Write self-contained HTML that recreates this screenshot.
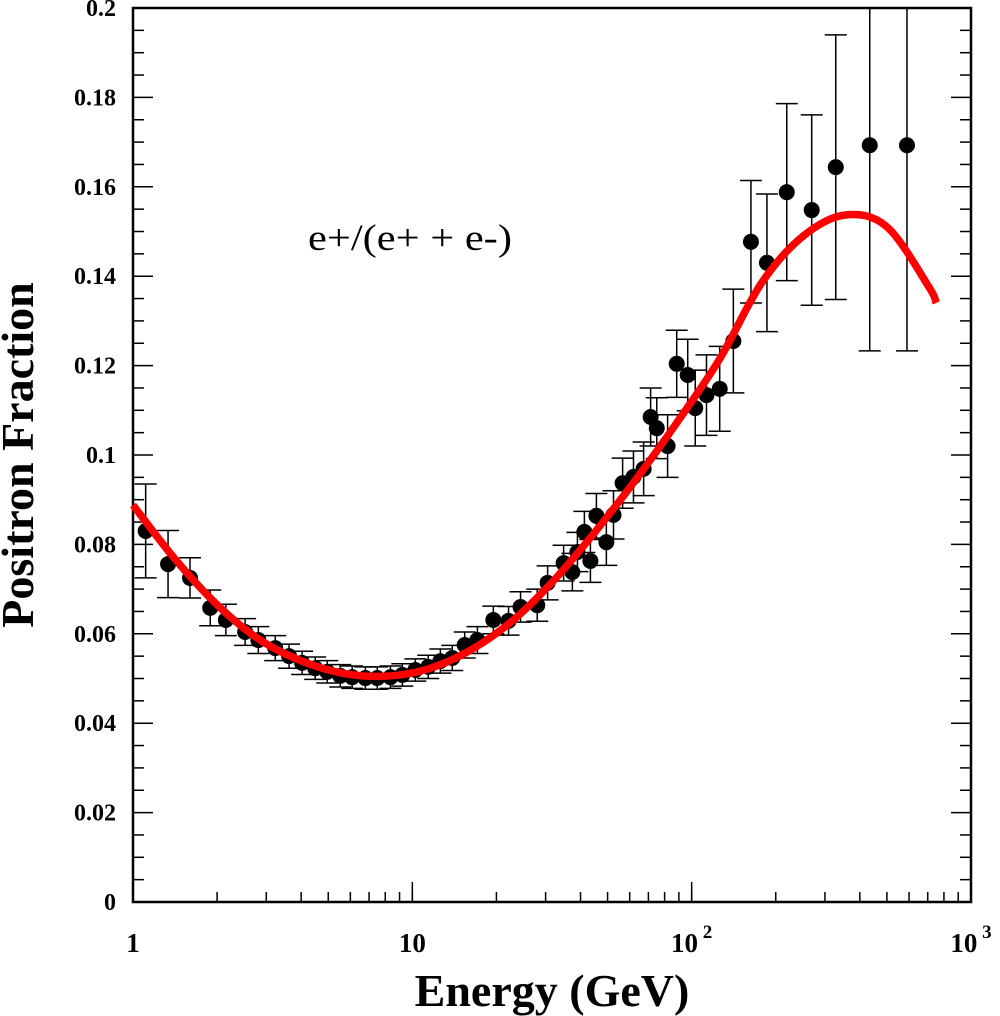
<!DOCTYPE html>
<html><head><meta charset="utf-8"><style>
html,body{margin:0;padding:0;background:#fff;}
svg{display:block;font-family:"Liberation Serif",serif;}
</style></head><body>
<svg id="chart" width="1000" height="1016">
<g id="axes"></g>
<g id="errs"></g>
<g id="pts"></g>
<g id="fit"></g>
<text x="308" y="250" font-size="37" textLength="204" lengthAdjust="spacingAndGlyphs">e+/(e+ + e-)</text>
<text x="552" y="1006" font-size="46" font-weight="bold" text-anchor="middle">Energy (GeV)</text>
<text transform="translate(33,455) rotate(-90)" font-size="46" font-weight="bold" text-anchor="middle">Positron Fraction</text>
</svg>
<script>
const energies=[1.11,1.335,1.6,1.89,2.15,2.52,2.81,3.23,3.62,4.03,4.49,4.96,5.52,6.09,6.79,7.49,8.35,9.21,10.25,11.4,12.6,13.9,15.4,17.1,19.5,22.1,24.4,28.0,30.5,34.8,37.4,39.0,41.3,43.4,45.6,49.5,52.5,56.6,61.9,67.3,71.3,75.0,82.0,88.4,96.8,103,113,126,141,163,186,219,269,328,434,590];
const fractions=[.0830,.0756,.0725,.0658,.0631,.0604,.0586,.0568,.0550,.0535,.0523,.0515,.0506,.0503,.0501,.0501,.0503,.0508,.0519,.0526,.0539,.0546,.0575,.0586,.0631,.0629,.0660,.0664,.0714,.0758,.0738,.0783,.0828,.0763,.0864,.0805,.0866,.0937,.0951,.0969,.1085,.1060,.1020,.1204,.1179,.1105,.1134,.1148,.1255,.1477,.1430,.1588,.1548,.1644,.1693,.1693];
const errors=[.0105,.0075,.0045,.004,.0035,.003,.003,.0028,.0027,.0026,.0025,.0025,.0025,.0025,.0025,.0025,.0025,.0025,.0025,.0026,.0027,.0028,.0029,.003,.0031,.0032,.0034,.0036,.0038,.004,.0042,.0044,.0046,.0048,.005,.0052,.0054,.0056,.0058,.006,.0065,.0068,.007,.0075,.008,.0085,.009,.0095,.0116,.0137,.0154,.0198,.0213,.0296,.046,.046];
const fitEnergies=[1,1.41,2.0,2.82,3.98,5.62,7.94,11.2,15.8,22.4,31.6,44.7,63.1,89.1,126,178,251,355,501,708,750];
const fitValues=[.0888,.0768,.0665,.0588,.0540,.0512,.0505,.0520,.0560,.0625,.0715,.0825,.0945,.1075,.1215,.1385,.1490,.1537,.1510,.1375,.1340];
const yTicks=[0,0.02,0.04,0.06,0.08,0.1,0.12,0.14,0.16,0.18,0.2];
const yTickLabels=["0","0.02","0.04","0.06","0.08","0.1","0.12","0.14","0.16","0.18","0.2"];
const xDecades=[1,10,100,1000];

const X0=133,X1=971,Y0=902,Y1=8;
const sx=e=>X0+(X1-X0)*Math.log10(e)/3;
const sy=v=>Y0-(Y0-Y1)*v/0.2;
const NS="http://www.w3.org/2000/svg";
function mk(parent,tag,attrs){const el=document.createElementNS(NS,tag);for(const k in attrs)el.setAttribute(k,attrs[k]);document.getElementById(parent).appendChild(el);return el;}

const frame=mk('axes','rect',{x:X0,y:Y1,width:X1-X0,height:Y0-Y1,fill:'none',stroke:'#000','stroke-width':2.5});


for(let v=0;v<=0.2001;v+=0.005){
  const maj=Math.abs(v*50-Math.round(v*50))<1e-6;
  const L=maj?20:11;const y=sy(v);
  const t1=mk('axes','line',{x1:X0,x2:X0+L,y1:y,y2:y,stroke:'#000','stroke-width':1.5});
  
  
  const t2=mk('axes','line',{x1:X1,x2:X1-L,y1:y,y2:y,stroke:'#000','stroke-width':1.5});
  
  
}
yTicks.forEach((v,i)=>{
  const t=mk('axes','text',{x:116,y:sy(v)+8,'font-size':24,'font-weight':'bold','text-anchor':'end'});
  t.textContent=yTickLabels[i];
  
  
});
for(let d=0;d<3;d++){for(let k=1;k<=10;k++){
  const e=Math.pow(10,d)*k;const L=(k===10)?20:10;
  const t=mk('axes','line',{x1:sx(e),x2:sx(e),y1:Y0,y2:Y0-L,stroke:'#000','stroke-width':1.5});
  
  
}}
xDecades.forEach((e,i)=>{
  const t=mk('axes','text',{x:sx(e),y:952,'font-size':27,'font-weight':'bold','text-anchor':'middle'});
  if(i<2)t.textContent=String(e);
  else{t.textContent='10';const s=document.createElementNS(NS,'tspan');s.setAttribute('dy','-14');s.setAttribute('font-size','19');s.textContent=' '+i;t.appendChild(s);}
  
  
});
energies.forEach((e,i)=>{
  const x=sx(e),yt=Math.max(Y1,sy(fractions[i]+errors[i])),yb=sy(fractions[i]-errors[i]);
  const g=mk('errs','path',{d:`M${x},${yt}V${yb}M${x-11},${yb}H${x+11}`+(sy(fractions[i]+errors[i])>=Y1?`M${x-11},${yt}H${x+11}`:''),stroke:'#000','stroke-width':1.5,fill:'none'});
  
  
  const c=mk('pts','circle',{cx:x,cy:sy(fractions[i]),r:8,fill:'#000'});
  
  
});
const P=fitEnergies.map((e,i)=>[sx(e),sy(fitValues[i])]);
let d=`M${P[0][0]},${P[0][1]}`;
for(let i=0;i<P.length-1;i++){
  const p0=P[Math.max(0,i-1)],p1=P[i],p2=P[i+1],p3=P[Math.min(P.length-1,i+2)];
  d+=`C${p1[0]+(p2[0]-p0[0])/6},${p1[1]+(p2[1]-p0[1])/6} ${p2[0]-(p3[0]-p1[0])/6},${p2[1]-(p3[1]-p1[1])/6} ${p2[0]},${p2[1]}`;
}
const fp=mk('fit','path',{d:d,stroke:'#ff0000','stroke-width':7.5,fill:'none'});


</script>
</body></html>
